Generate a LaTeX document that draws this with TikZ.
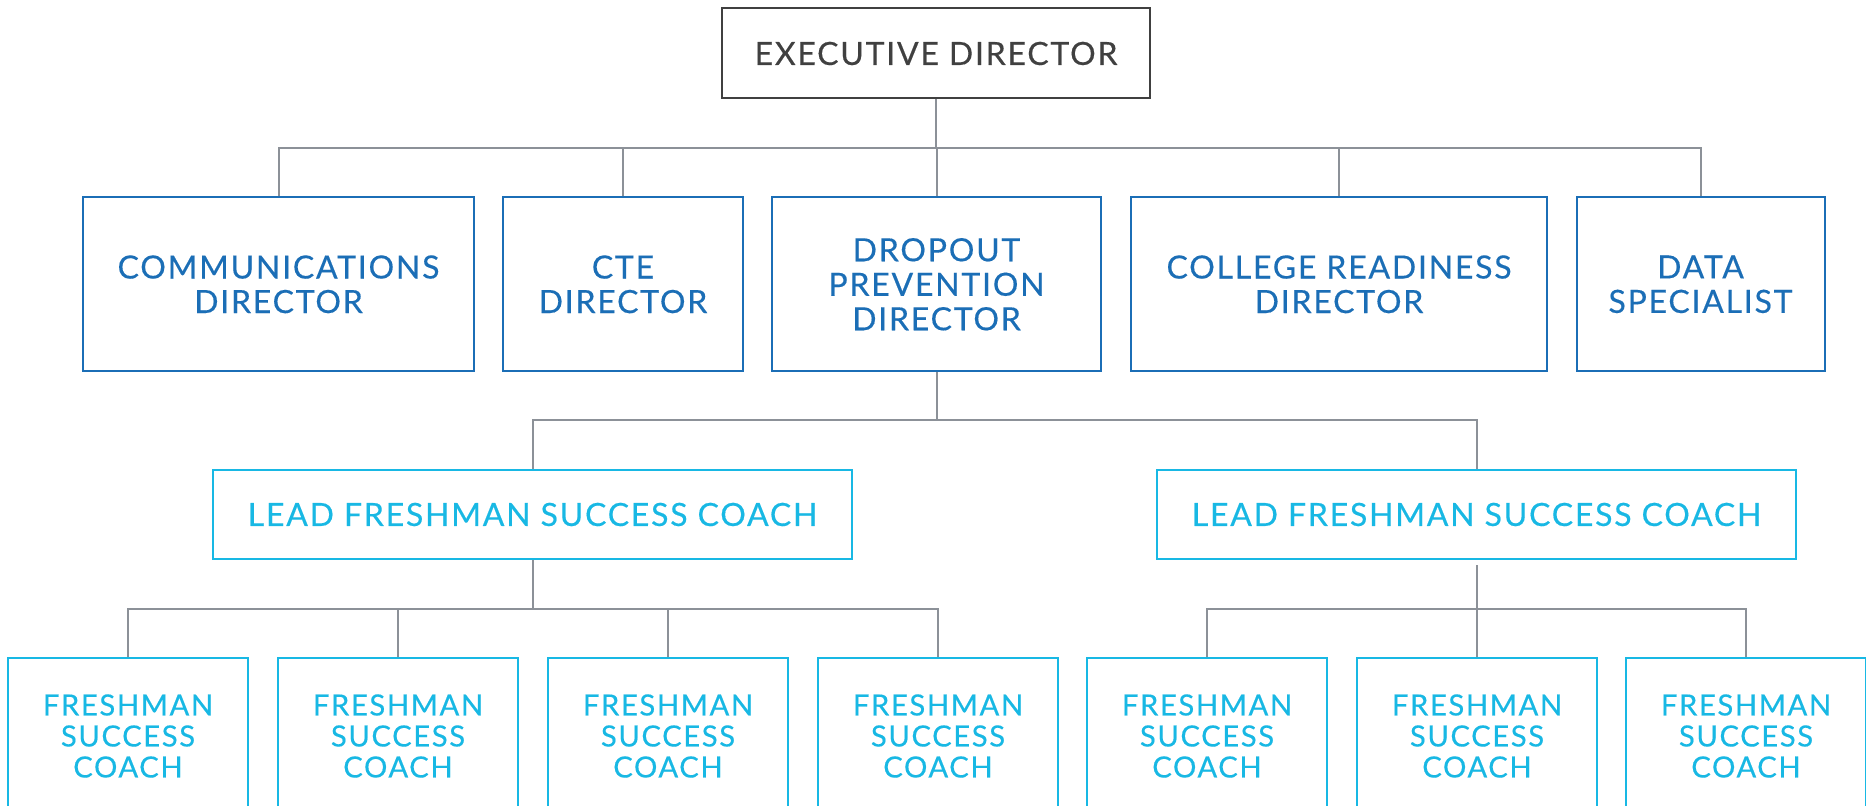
\documentclass[tikz,border=0pt]{standalone}
\usepackage{fontspec}
\setmainfont[LetterSpace=5.5,FakeBold=0.35]{Lato}
\definecolor{exgray}{RGB}{64,64,64}
\definecolor{conngray}{RGB}{140,145,152}
\definecolor{dblue}{RGB}{27,110,182}
\definecolor{cyanb}{RGB}{24,184,228}
\begin{document}
\begin{tikzpicture}[x=0.5pt,y=-0.5pt,
  basebox/.style={draw, line width=1pt, inner sep=0pt, align=center, fill=white},
  exbox/.style={basebox, draw=exgray, text=exgray, minimum width=214pt, minimum height=45pt, font=\fontsize{16}{17.25}\selectfont},
  dirbox/.style={basebox, draw=dblue, text=dblue, minimum height=87pt, font=\fontsize{16}{17.25}\selectfont},
  leadbox/.style={basebox, draw=cyanb, text=cyanb, minimum width=319.5pt, minimum height=44.5pt, font=\fontsize{16}{17.25}\selectfont},
  fsbox/.style={basebox, draw=cyanb, text=cyanb, minimum width=120pt, minimum height=78pt, font=\fontsize{14.6}{15.5}\selectfont},
  conn/.style={draw=conngray, line width=1pt}]
\clip (0,0) rectangle (1866,806);
% top
\node[exbox] (exec) at (936,53.5) {EXECUTIVE DIRECTOR};
% directors
\node[dirbox, minimum width=195.5pt] (comm) at (278.5,284.3) {COMMUNICATIONS\\DIRECTOR};
\node[dirbox, minimum width=120pt] (cte) at (623,284.3) {CTE\\DIRECTOR};
\node[dirbox, minimum width=164.5pt] (drop) at (936.5,284.3) {DROPOUT\\PREVENTION\\DIRECTOR};
\node[dirbox, minimum width=208pt] (coll) at (1339,284.3) {COLLEGE READINESS\\DIRECTOR};
\node[dirbox, minimum width=124pt] (data) at (1700.5,284.3) {DATA\\SPECIALIST};
% leads
\node[leadbox] (leadL) at (532.5,514.5) {LEAD FRESHMAN SUCCESS COACH};
\node[leadbox] (leadR) at (1476.5,514.5) {LEAD FRESHMAN SUCCESS COACH};
% coaches
\foreach \i/\x in {1/128,2/398,3/668,4/938,5/1207,6/1477,7/1746}{
  \node[fsbox] (fs\i) at (\x,736) {FRESHMAN\\SUCCESS\\COACH};
}
% connectors
\coordinate (bus1) at (936,148);
\coordinate (bus2) at (936.5,420);
\coordinate (bus3) at (532.5,609);
\coordinate (bus4) at (1476.5,609);
\coordinate (gapR) at (1476.5,565);
\draw[conn] (exec.south) -- (bus1);
\draw[conn] (comm.north) -- (comm.north |- bus1) -- (data.north |- bus1) -- (data.north);
\draw[conn] (cte.north) -- (cte.north |- bus1);
\draw[conn] (drop.north) -- (drop.north |- bus1);
\draw[conn] (coll.north) -- (coll.north |- bus1);
\draw[conn] (drop.south) -- (bus2);
\draw[conn] (leadL.north) -- (leadL.north |- bus2) -- (leadR.north |- bus2) -- (leadR.north);
\draw[conn] (leadL.south) -- (bus3);
\draw[conn] (fs1.north) -- (fs1.north |- bus3) -- (fs4.north |- bus3) -- (fs4.north);
\draw[conn] (fs2.north) -- (fs2.north |- bus3);
\draw[conn] (fs3.north) -- (fs3.north |- bus3);
\draw[conn] (gapR) -- (bus4);
\draw[conn] (fs5.north) -- (fs5.north |- bus4) -- (fs7.north |- bus4) -- (fs7.north);
\draw[conn] (fs6.north) -- (fs6.north |- bus4);
\end{tikzpicture}
\end{document}
